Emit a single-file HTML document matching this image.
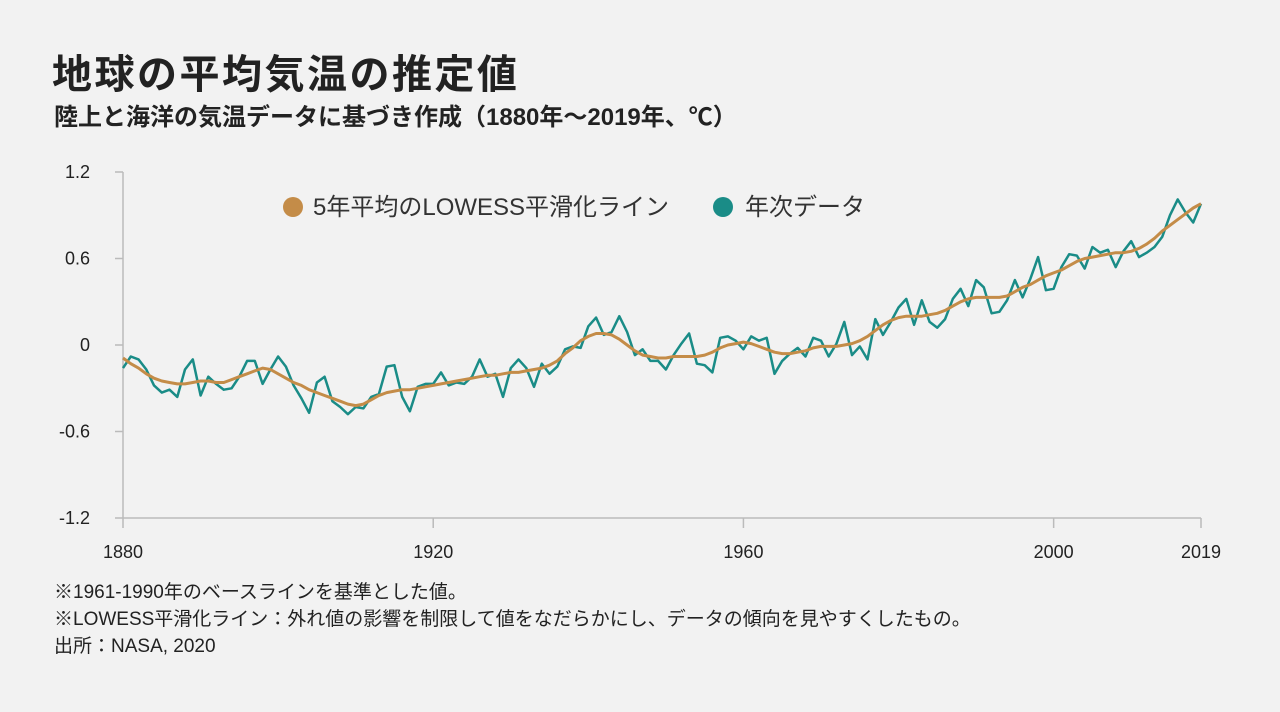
<!DOCTYPE html>
<html lang="ja"><head><meta charset="utf-8">
<style>
html,body{margin:0;padding:0;background:#f2f2f2;}
body{width:1280px;height:712px;overflow:hidden;position:relative;font-family:"Liberation Sans","Noto Sans CJK JP",sans-serif;color:#222;}
.t{position:absolute;white-space:nowrap;}
</style></head><body>
<div class="t" style="left:52px;top:42px;font-size:40px;font-weight:bold;letter-spacing:2.5px;">地球の平均気温の推定値</div>
<div class="t" style="left:54px;top:97px;font-size:24px;font-weight:bold;">陸上と海洋の気温データに基づき作成（1880年〜2019年、℃）</div>
<svg id="chart" width="1280" height="712" style="position:absolute;left:0;top:0;"></svg>
<div class="t" style="left:54px;top:577px;font-size:19px;">※1961-1990年のベースラインを基準とした値。</div>
<div class="t" style="left:54px;top:604px;font-size:19px;">※LOWESS平滑化ライン：外れ値の影響を制限して値をなだらかにし、データの傾向を見やすくしたもの。</div>
<div class="t" style="left:54px;top:631px;font-size:19px;">出所：NASA, 2020</div>
<script>
const startYear = 1880;
const annual = [-0.16,-0.08,-0.10,-0.17,-0.28,-0.33,-0.31,-0.36,-0.17,-0.10,-0.35,-0.22,-0.27,-0.31,-0.30,-0.22,-0.11,-0.11,-0.27,-0.17,-0.08,-0.15,-0.28,-0.37,-0.47,-0.26,-0.22,-0.39,-0.43,-0.48,-0.43,-0.44,-0.36,-0.34,-0.15,-0.14,-0.36,-0.46,-0.29,-0.27,-0.27,-0.19,-0.28,-0.26,-0.27,-0.22,-0.10,-0.22,-0.20,-0.36,-0.16,-0.10,-0.16,-0.29,-0.13,-0.20,-0.15,-0.03,-0.01,-0.02,0.13,0.19,0.07,0.09,0.20,0.09,-0.07,-0.03,-0.11,-0.11,-0.17,-0.07,0.01,0.08,-0.13,-0.14,-0.19,0.05,0.06,0.03,-0.03,0.06,0.03,0.05,-0.20,-0.11,-0.06,-0.02,-0.08,0.05,0.03,-0.08,0.01,0.16,-0.07,-0.01,-0.10,0.18,0.07,0.16,0.26,0.32,0.14,0.31,0.16,0.12,0.18,0.32,0.39,0.27,0.45,0.40,0.22,0.23,0.31,0.45,0.33,0.46,0.61,0.38,0.39,0.54,0.63,0.62,0.53,0.68,0.64,0.66,0.54,0.65,0.72,0.61,0.64,0.68,0.75,0.90,1.01,0.92,0.85,0.98];
const lowess = [-0.09,-0.13,-0.16,-0.20,-0.23,-0.25,-0.26,-0.27,-0.27,-0.26,-0.25,-0.25,-0.26,-0.26,-0.24,-0.22,-0.20,-0.18,-0.16,-0.17,-0.20,-0.23,-0.26,-0.28,-0.31,-0.33,-0.35,-0.37,-0.39,-0.41,-0.42,-0.41,-0.38,-0.35,-0.33,-0.32,-0.31,-0.31,-0.30,-0.29,-0.28,-0.27,-0.26,-0.25,-0.24,-0.23,-0.22,-0.21,-0.21,-0.20,-0.19,-0.19,-0.18,-0.17,-0.16,-0.14,-0.11,-0.06,-0.02,0.03,0.06,0.08,0.08,0.07,0.04,0.00,-0.04,-0.07,-0.08,-0.09,-0.09,-0.08,-0.08,-0.08,-0.08,-0.07,-0.05,-0.02,0.00,0.01,0.02,0.01,-0.01,-0.03,-0.05,-0.06,-0.06,-0.05,-0.04,-0.02,-0.01,-0.01,-0.01,0.00,0.01,0.03,0.06,0.10,0.14,0.17,0.19,0.20,0.20,0.20,0.21,0.22,0.24,0.27,0.30,0.32,0.33,0.33,0.33,0.33,0.34,0.37,0.40,0.42,0.45,0.48,0.50,0.52,0.55,0.58,0.60,0.61,0.62,0.63,0.64,0.64,0.65,0.67,0.70,0.74,0.79,0.83,0.87,0.91,0.95,0.98];
const yTicks = [1.2,0.6,0,-0.6,-1.2];
const yTickLabels = ["1.2","0.6","0","-0.6","-1.2"];
const xTicks = [1880,1920,1960,2000,2019];
const x0=123,x1=1201,yTop=172,yBot=518;
function xs(yr){return x0+(yr-1880)/(2019-1880)*(x1-x0);}
function ys(v){return yBot-(v+1.2)/2.4*(yBot-yTop);}
const svg=document.getElementById('chart');
const NS='http://www.w3.org/2000/svg';
function mk(tag,attrs){const e=document.createElementNS(NS,tag);for(const k in attrs)e.setAttribute(k,attrs[k]);svg.appendChild(e);return e;}
let e=mk('line',{x1:x0,y1:yTop,x2:x0,y2:yBot,stroke:'#bbb','stroke-width':1.5});


e=mk('line',{x1:x0,y1:yBot,x2:x1,y2:yBot,stroke:'#bbb','stroke-width':1.5});


yTicks.forEach((v,i)=>{
  const t=mk('text',{x:90,y:ys(v)+6,'text-anchor':'end','font-size':18,fill:'#222','font-family':'Liberation Sans, sans-serif'});
  t.textContent=yTickLabels[i];
  
  
  const l=mk('line',{x1:x0-8,y1:ys(v),x2:x0,y2:ys(v),stroke:'#bbb','stroke-width':1.5});
  
  
});
xTicks.forEach(yr=>{
  const l=mk('line',{x1:xs(yr),y1:yBot,x2:xs(yr),y2:yBot+10,stroke:'#bbb','stroke-width':1.5});
  
  
  const t=mk('text',{x:xs(yr),y:558,'text-anchor':'middle','font-size':18,fill:'#222','font-family':'Liberation Sans, sans-serif'});
  t.textContent=String(yr);
  
  
});
const pa=annual.map((v,i)=>xs(startYear+i).toFixed(1)+','+ys(v).toFixed(1)).join(' ');
const pl=lowess.map((v,i)=>xs(startYear+i).toFixed(1)+','+ys(v).toFixed(1)).join(' ');
e=mk('polyline',{points:pa,fill:'none',stroke:'#1a8c87','stroke-width':2.5,'stroke-linejoin':'round'});


e=mk('polyline',{points:pl,fill:'none',stroke:'#c48c48','stroke-width':3,'stroke-linejoin':'round'});


e=mk('circle',{cx:293,cy:207,r:10,fill:'#c48c48'});


e=mk('text',{x:313,y:215,'font-size':24,fill:'#333','font-family':'Liberation Sans, Noto Sans CJK JP, sans-serif'});
e.textContent='5年平均のLOWESS平滑化ライン';


e=mk('circle',{cx:723,cy:207,r:10,fill:'#1a8c87'});


e=mk('text',{x:745,y:215,'font-size':24,fill:'#333','font-family':'Liberation Sans, Noto Sans CJK JP, sans-serif'});
e.textContent='年次データ';


</script>
</body></html>
